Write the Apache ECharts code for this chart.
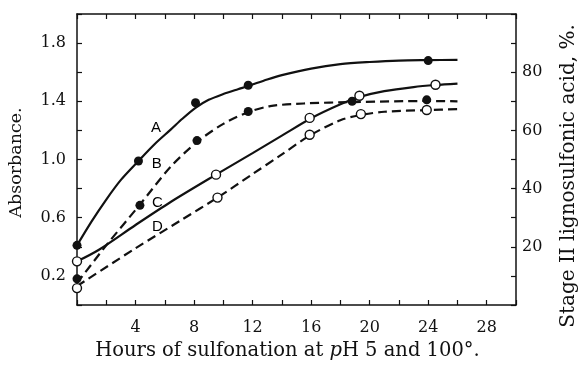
<!DOCTYPE html>
<html>
<head>
<meta charset="utf-8">
<script src="https://cdn.jsdelivr.net/npm/echarts@6/dist/echarts.min.js"></script>
<style>
  html, body { margin: 0; padding: 0; background: #fff; }
  #chart { width: 580px; height: 372px; }
</style>
</head>
<body>
<div id="chart"></div>
<script>
// hours, absorbance (A, B)
const aCurve = [[0, 0.41], [1, 0.575], [2, 0.725], [3, 0.86], [4.2, 0.99], [5.3, 1.105], [6.4, 1.205], [7.2, 1.28], [8.1, 1.355], [9, 1.41], [10, 1.45], [11, 1.483], [11.7, 1.505], [13, 1.55], [14, 1.58], [16, 1.625], [18, 1.655], [20, 1.67], [22, 1.68], [24, 1.683], [26, 1.685]];
const aPoints = [[0, 0.41], [4.2, 0.99], [8.1, 1.39], [11.7, 1.51], [24, 1.68]];
const bCurve = [[0, 0.15], [2, 0.41], [4.3, 0.69], [6.4, 0.95], [8.2, 1.12], [10, 1.245], [11.7, 1.325], [13.2, 1.367], [15.5, 1.385], [19, 1.395], [24, 1.402], [26, 1.4]];
const bPoints = [[0, 0.18], [4.3, 0.685], [8.2, 1.13], [11.7, 1.33], [18.8, 1.4], [23.9, 1.41]];
// hours, stage II lignosulfonic acid % (C, D)
const cCurve = [[0, 15], [1.5, 19], [4, 27.5], [6.4, 35.4], [9.5, 44.8], [12, 52.2], [14, 58.2], [16, 64.2], [18, 69], [19.3, 71.5], [21, 73.5], [23, 74.9], [24.5, 75.6], [26, 76.1]];
const cPoints = [[0, 15], [9.5, 44.8], [15.9, 64.3], [19.3, 71.9], [24.5, 75.7]];
const dCurve = [[0, 6.5], [4, 19.5], [7.1, 29.1], [9.6, 36.9], [12, 45], [13.9, 51.4], [15.9, 58.2], [18, 63.5], [19.4, 65.3], [21, 66.4], [24, 67], [26, 67.3]];
const dPoints = [[0, 5.8], [9.6, 36.9], [15.9, 58.5], [19.4, 65.6], [23.9, 67]];

const curveLabels = [["A", 5.4, 1.22], ["B", 5.45, 0.97], ["C", 5.5, 0.705], ["D", 5.5, 0.534]];

const xTicks = [4, 8, 12, 16, 20, 24, 28];
const yLeftTicks = ["0.2", "0.6", "1.0", "1.4", "1.8"];
const yRightTicks = [20, 40, 60, 80];

const ink = "#111";
const serif = "DejaVu Serif";

const chart = echarts.init(document.getElementById("chart"), null, { renderer: "canvas" });

const frameAxis = {
  axisLine: { show: true, onZero: false, lineStyle: { color: ink, width: 1.5 } },
  axisTick: { show: true, inside: true, length: 5, lineStyle: { color: ink, width: 1.2 } },
  splitLine: { show: false },
};

function curve(data, dashed, yAxisIndex) {
  return {
    type: "line",
    data,
    yAxisIndex,
    smooth: 0.3,
    showSymbol: false,
    silent: true,
    z: 2,
    lineStyle: { color: ink, width: 2.2, type: dashed ? [9, 5] : "solid" },
  };
}

function points(data, filled, yAxisIndex) {
  return {
    type: "scatter",
    data,
    yAxisIndex,
    symbol: "circle",
    symbolSize: 9,
    z: 3,
    itemStyle: filled
      ? { color: ink, opacity: 1 }
      : { color: "#fff", borderColor: ink, borderWidth: 1.4, opacity: 1 },
  };
}

chart.setOption({
  animation: false,
  backgroundColor: "#fff",
  grid: { left: 77, right: 64, top: 14, bottom: 67, containLabel: false, outerBoundsMode: "none" },
  xAxis: [
    {
      type: "value",
      position: "bottom",
      min: 0,
      max: 30,
      interval: 2,
      ...frameAxis,
      axisLabel: {
        color: ink,
        fontFamily: serif,
        fontSize: 16,
        margin: 15,
        formatter: (v) => (xTicks.includes(v) ? String(v) : ""),
      },
      name: "Hours of sulfonation at {i|p}H 5 and 100°.",
      nameLocation: "middle",
      nameGap: 35,
      nameTextStyle: {
        color: ink,
        fontFamily: serif,
        fontSize: 19.5,
        padding: [0, 18, 0, 0],
        rich: { i: { fontFamily: serif, fontStyle: "italic", fontSize: 19.5, color: ink } },
      },
    },
    {
      type: "value",
      position: "top",
      min: 0,
      max: 30,
      interval: 2,
      ...frameAxis,
      axisLabel: { show: false },
    },
  ],
  yAxis: [
    {
      type: "value",
      position: "left",
      min: 0,
      max: 2,
      interval: 0.2,
      ...frameAxis,
      axisLabel: {
        color: ink,
        fontFamily: serif,
        fontSize: 16,
        margin: 11,
        formatter: (v) => (yLeftTicks.includes(v.toFixed(1)) ? v.toFixed(1) : ""),
      },
      name: "Absorbance.",
      nameLocation: "middle",
      nameGap: 52,
      nameTextStyle: { color: ink, fontFamily: serif, fontSize: 17.5, padding: [0, 6, 0, 0] },
    },
    {
      type: "value",
      position: "right",
      min: 0,
      max: 100,
      interval: 10,
      ...frameAxis,
      axisLabel: {
        color: ink,
        fontFamily: serif,
        fontSize: 16,
        margin: 6,
        formatter: (v) => (yRightTicks.includes(v) ? String(v) : ""),
      },
      name: "Stage II lignosulfonic acid, %.",
      nameLocation: "middle",
      nameRotate: 90,
      nameGap: 43,
      nameTextStyle: { color: ink, fontFamily: serif, fontSize: 20, padding: [0, 33, 0, 0] },
    },
  ],
  series: [
    curve(aCurve, false, 0),
    curve(bCurve, true, 0),
    curve(cCurve, false, 1),
    curve(dCurve, true, 1),
    points(aPoints, true, 0),
    points(bPoints, true, 0),
    points(cPoints, false, 1),
    points(dPoints, false, 1),
    {
      type: "scatter",
      data: curveLabels.map(([name, x, y]) => ({ name, value: [x, y] })),
      symbolSize: 0,
      silent: true,
      z: 4,
      itemStyle: { opacity: 1 },
      label: {
        show: true,
        position: "inside",
        formatter: (p) => p.name,
        color: "#000",
        fontFamily: "Liberation Sans",
        fontSize: 15,
      },
    },
  ],
});
</script>
</body>
</html>
